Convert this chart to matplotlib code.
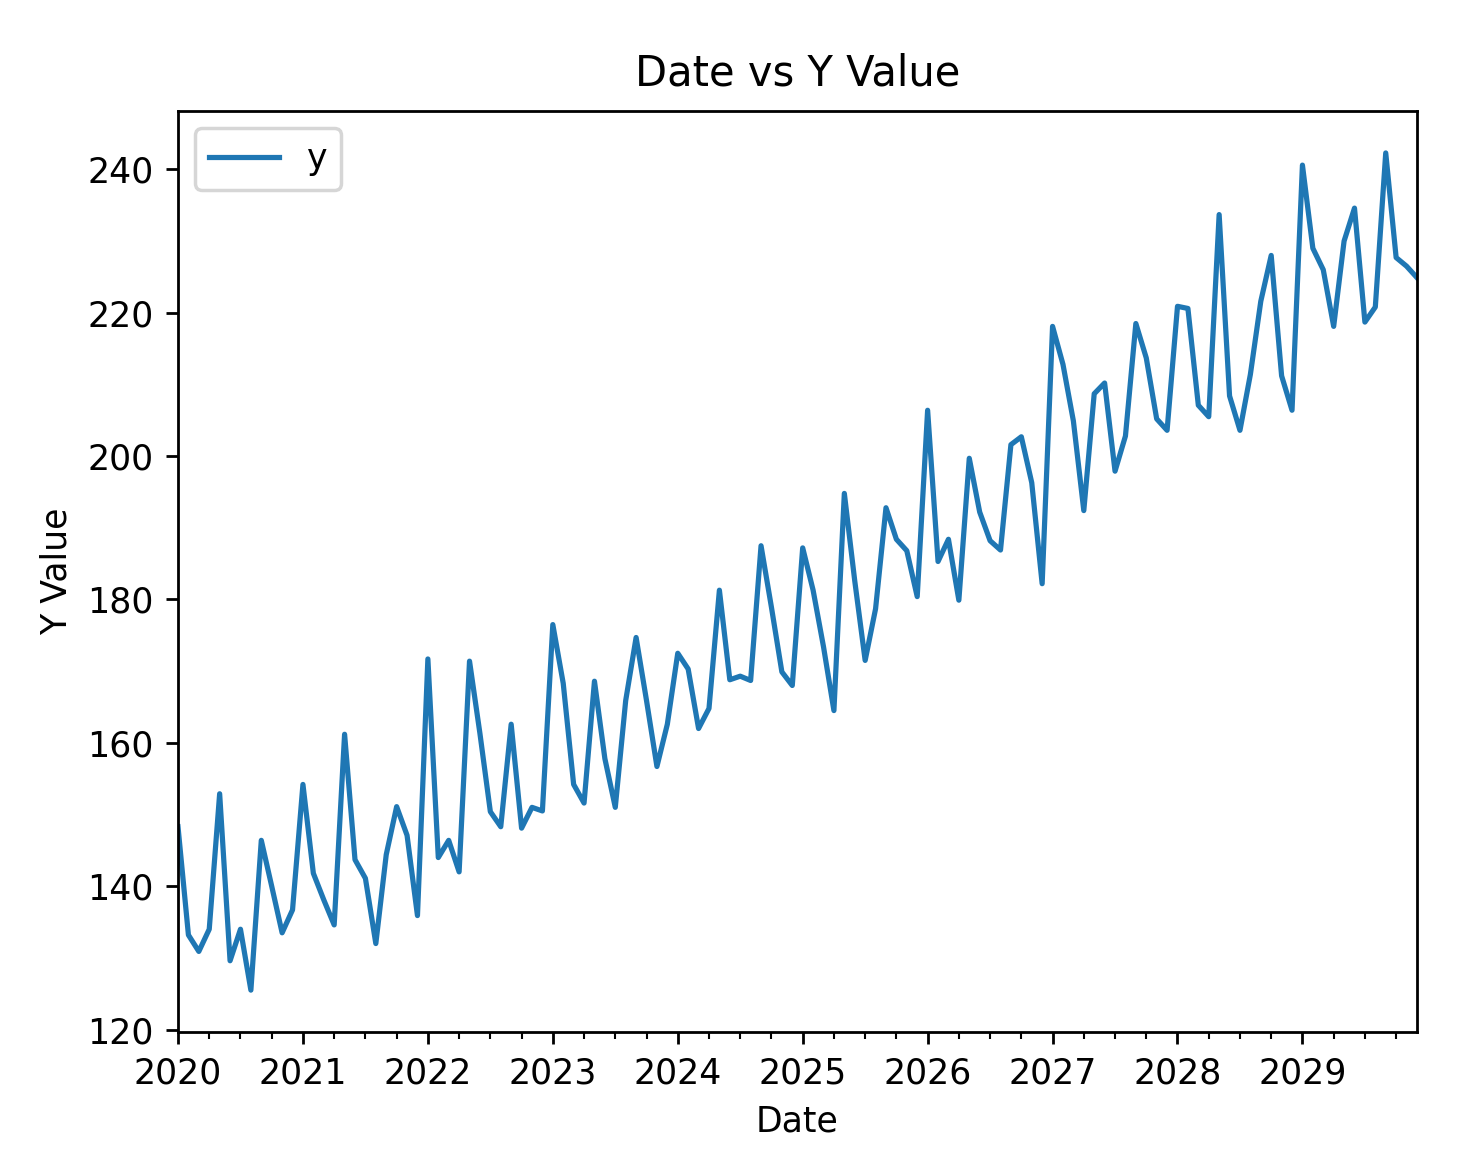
# monthly y values, 2020-01 .. 2029-12, plotted with pandas like the original
import pandas as pd
import matplotlib
matplotlib.use("Agg")
import matplotlib.pyplot as plt

start_month = "2020-01-01"
n_months = 120

y_2020 = [148.3, 133.2, 130.9, 134.0, 152.9, 129.6, 134.0, 125.5, 146.4, 140.0, 133.5, 136.7]
y_2021 = [154.2, 141.8, 138.1, 134.6, 161.2, 143.7, 141.1, 132.0, 144.4, 151.1, 147.1, 135.9]
y_2022 = [171.7, 144.0, 146.4, 142.0, 171.4, 161.3, 150.4, 148.3, 162.6, 148.1, 151.0, 150.5]
y_2023 = [176.5, 168.3, 154.2, 151.6, 168.6, 157.8, 151.0, 165.9, 174.7, 165.9, 156.7, 162.6]
y_2024 = [172.5, 170.3, 162.0, 164.8, 181.3, 168.8, 169.3, 168.7, 187.5, 178.9, 169.9, 168.0]
y_2025 = [187.2, 181.3, 173.4, 164.5, 194.8, 182.6, 171.5, 178.7, 192.8, 188.4, 186.8, 180.4]
y_2026 = [206.4, 185.3, 188.4, 179.9, 199.7, 192.2, 188.2, 186.9, 201.6, 202.7, 196.3, 182.2]
y_2027 = [218.1, 212.8, 204.9, 192.4, 208.7, 210.2, 197.9, 202.8, 218.5, 213.7, 205.2, 203.6]
y_2028 = [220.9, 220.6, 207.1, 205.5, 233.7, 208.4, 203.6, 211.4, 221.6, 228.0, 211.2, 206.4]
y_2029 = [240.6, 229.0, 226.0, 218.1, 230.0, 234.6, 218.7, 220.8, 242.3, 227.7, 226.5, 224.9]

y = (y_2020 + y_2021 + y_2022 + y_2023 + y_2024 +
     y_2025 + y_2026 + y_2027 + y_2028 + y_2029)
dates = pd.date_range(start_month, periods=n_months, freq="MS")

df = pd.DataFrame({"Date": dates, "y": y})

fig, ax = plt.subplots(figsize=(1476 / 250, 1158 / 250), dpi=250)
df.plot(x="Date", y="y", ax=ax)
ax.set_title("Date vs Y Value", pad=7.5)
ax.set_xlabel("Date")
ax.set_ylabel("Y Value")
fig.subplots_adjust(left=0.1206, right=0.960, top=0.9041, bottom=0.1088)
plt.savefig("out.png", dpi=250)
